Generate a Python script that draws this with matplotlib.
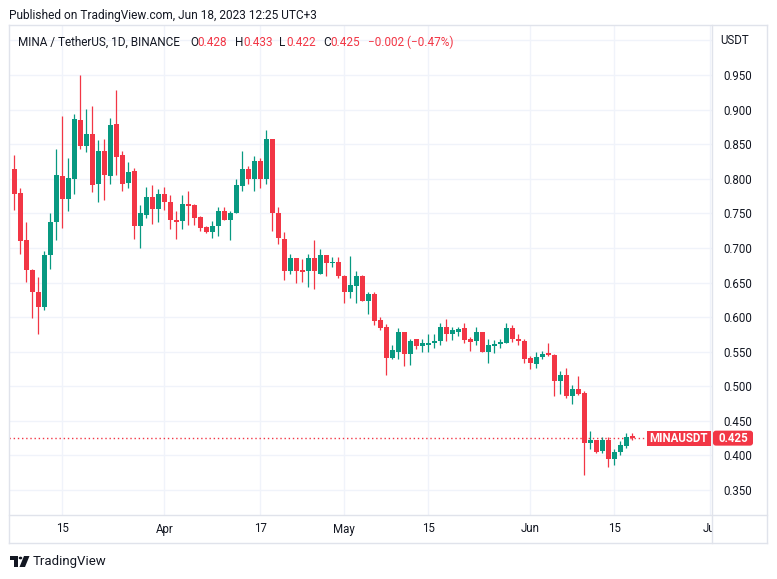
import matplotlib
matplotlib.use("Agg")
import matplotlib.pyplot as plt
import matplotlib.dates as mdates
from matplotlib.patches import Rectangle, Polygon, Circle, FancyBboxPatch
from matplotlib.lines import Line2D
from matplotlib.transforms import blended_transform_factory
import numpy as np
import pandas as pd

# ---------------- data ----------------
start_date = "2023-03-07"
opens = [0.814, 0.779, 0.711, 0.668, 0.637, 0.614, 0.690, 0.738, 0.804, 0.771,
         0.800, 0.885, 0.848, 0.865, 0.793, 0.840, 0.804, 0.879, 0.834, 0.794,
         0.811, 0.732, 0.748, 0.773, 0.756, 0.778, 0.767, 0.741, 0.739, 0.763,
         0.762, 0.744, 0.730, 0.723, 0.732, 0.754, 0.741, 0.750, 0.790, 0.814,
         0.800, 0.826, 0.799, 0.858, 0.751, 0.713, 0.666, 0.686, 0.668, 0.666,
         0.686, 0.663, 0.690, 0.678, 0.680, 0.659, 0.636, 0.645, 0.659, 0.623,
         0.633, 0.596, 0.585, 0.541, 0.550, 0.579, 0.546, 0.568, 0.558, 0.559,
         0.563, 0.566, 0.585, 0.575, 0.579, 0.584, 0.568, 0.565, 0.579, 0.550,
         0.558, 0.561, 0.562, 0.584, 0.569, 0.566, 0.541, 0.532, 0.542, 0.548,
         0.545, 0.508, 0.517, 0.486, 0.496, 0.491, 0.418, 0.422, 0.406, 0.422,
         0.395, 0.405, 0.413, 0.428]
highs = [0.834, 0.786, 0.737, 0.669, 0.658, 0.695, 0.750, 0.843, 0.891, 0.830,
         0.894, 0.950, 0.901, 0.905, 0.856, 0.857, 0.888, 0.929, 0.840, 0.824,
         0.815, 0.762, 0.788, 0.791, 0.785, 0.788, 0.777, 0.753, 0.776, 0.782,
         0.763, 0.746, 0.731, 0.739, 0.759, 0.759, 0.754, 0.800, 0.840, 0.818,
         0.833, 0.830, 0.871, 0.858, 0.759, 0.723, 0.691, 0.686, 0.684, 0.691,
         0.712, 0.698, 0.690, 0.687, 0.687, 0.661, 0.688, 0.666, 0.661, 0.637,
         0.637, 0.600, 0.590, 0.560, 0.584, 0.579, 0.569, 0.569, 0.569, 0.576,
         0.575, 0.592, 0.597, 0.585, 0.585, 0.591, 0.571, 0.585, 0.579, 0.568,
         0.567, 0.569, 0.591, 0.588, 0.576, 0.568, 0.544, 0.549, 0.551, 0.562,
         0.546, 0.522, 0.527, 0.502, 0.515, 0.493, 0.435, 0.422, 0.427, 0.426,
         0.410, 0.421, 0.433, 0.433]
lows = [0.755, 0.691, 0.651, 0.598, 0.575, 0.610, 0.669, 0.712, 0.729, 0.754,
        0.778, 0.843, 0.838, 0.781, 0.767, 0.769, 0.793, 0.806, 0.782, 0.787,
        0.713, 0.700, 0.743, 0.735, 0.737, 0.755, 0.728, 0.713, 0.728, 0.733,
        0.733, 0.724, 0.722, 0.715, 0.717, 0.741, 0.712, 0.750, 0.782, 0.793,
        0.783, 0.786, 0.792, 0.724, 0.705, 0.654, 0.663, 0.650, 0.651, 0.643,
        0.641, 0.662, 0.659, 0.672, 0.656, 0.621, 0.627, 0.621, 0.624, 0.604,
        0.588, 0.582, 0.516, 0.540, 0.540, 0.529, 0.531, 0.554, 0.549, 0.549,
        0.555, 0.559, 0.565, 0.567, 0.573, 0.563, 0.551, 0.560, 0.550, 0.533,
        0.548, 0.555, 0.562, 0.564, 0.559, 0.533, 0.525, 0.527, 0.540, 0.544,
        0.486, 0.489, 0.483, 0.474, 0.487, 0.372, 0.409, 0.404, 0.404, 0.383,
        0.386, 0.401, 0.411, 0.422]
closes = [0.778, 0.710, 0.668, 0.636, 0.614, 0.690, 0.738, 0.805, 0.771, 0.801,
          0.886, 0.848, 0.865, 0.791, 0.840, 0.806, 0.878, 0.832, 0.793, 0.810,
          0.732, 0.750, 0.773, 0.756, 0.778, 0.767, 0.741, 0.737, 0.763, 0.760,
          0.743, 0.729, 0.723, 0.732, 0.754, 0.741, 0.751, 0.791, 0.814, 0.800,
          0.826, 0.799, 0.858, 0.750, 0.714, 0.666, 0.686, 0.666, 0.665, 0.686,
          0.666, 0.690, 0.678, 0.680, 0.659, 0.636, 0.647, 0.659, 0.624, 0.634,
          0.595, 0.584, 0.541, 0.552, 0.579, 0.546, 0.566, 0.558, 0.562, 0.563,
          0.566, 0.585, 0.575, 0.581, 0.583, 0.567, 0.564, 0.579, 0.550, 0.559,
          0.561, 0.564, 0.584, 0.568, 0.566, 0.540, 0.534, 0.543, 0.547, 0.545,
          0.508, 0.517, 0.486, 0.496, 0.489, 0.418, 0.422, 0.405, 0.422, 0.395,
          0.405, 0.415, 0.427, 0.425]

time_tick_dates = ["2023-03-15", "2023-04-01", "2023-04-17", "2023-05-01",
                   "2023-05-15", "2023-06-01", "2023-06-15", "2023-07-01"]
time_tick_labels = ["15", "Apr", "17", "May", "15", "Jun", "15", "Jul"]
price_ticks = [0.35, 0.40, 0.45, 0.50, 0.55, 0.60, 0.65, 0.70, 0.75, 0.80,
               0.85, 0.90, 0.95, 1.00]
price_labels = ["0.350", "0.400", "0.450", "0.500", "0.550", "0.600", "0.650",
                "0.700", "0.750", "0.800", "0.850", "0.900", "0.950", ""]
last_price = 0.425
symbol = "MINAUSDT"
header = "Published on TradingView.com, Jun 18, 2023 12:25 UTC+3"
legend_title = "MINA / TetherUS, 1D, BINANCE"
legend_parts = [("O", "0.428"), ("H", "0.433"), ("L", "0.422"), ("C", "0.425")]
legend_change = "\u22120.002 (\u22120.47%)"

# ---------------- style ----------------
UP = "#089981"
DOWN = "#f23645"
TXT = "#131722"
GRID = "#f0f3fa"
FRAME = "#e0e3eb"
FONT = "Roboto"
plt.rcParams["font.family"] = [FONT, "DejaVu Sans"]

W, H = 777, 579
fig = plt.figure(figsize=(W / 100, H / 100), dpi=100)
fig.patch.set_facecolor("white")


def fx(x):
    return x / W


def fy(y):
    return 1 - y / H


PL, PR, PT, PB = 9, 712, 25, 515
ax = fig.add_axes([fx(PL), fy(PB), (PR - PL) / W, (PB - PT) / H])
ax.set_facecolor("white")

dates = pd.date_range(start_date, periods=len(opens), freq="D")
x = mdates.date2num(dates.to_pydatetime())
o = np.array(opens)
h = np.array(highs)
l = np.array(lows)
c = np.array(closes)
up = c >= o
cols = np.where(up, UP, DOWN)

ax.set_ylim(0.3139, 1.0223)
ax.set_xlim(x[0] - 0.88, x[0] + 116.3)

# grid
tick_x = mdates.date2num(pd.to_datetime(time_tick_dates).to_pydatetime())
ax.set_xticks(tick_x)
ax.set_yticks(price_ticks, price_labels)
ax.grid(True, color=GRID, lw=1.0, zorder=0)
ax.set_axisbelow(True)
ax.tick_params(axis="x", length=0, labelbottom=False)
ax.yaxis.tick_right()
ax.tick_params(axis="y", length=0, pad=8, labelsize=8.3, labelcolor=TXT)
for s in ax.spines.values():
    s.set_visible(False)

# candles
ax.vlines(x, l, h, colors=cols, lw=0.9, zorder=3)
body_low = np.minimum(o, c)
body_h = np.maximum(np.abs(c - o), 0.0016)
ax.bar(x, body_h, width=0.82, bottom=body_low, color=cols, linewidth=0, zorder=4)

# last price dotted line
ax.axhline(last_price, color=DOWN, lw=1.0, ls=(0, (1, 2)), zorder=2)

# time axis
tax = fig.add_axes([fx(PL), fy(543), (PR - PL) / W, (543 - PB) / H])
tax.set_xlim(ax.get_xlim())
tax.set_ylim(0, 1)
tax.axis("off")
for tx, tl in zip(tick_x, time_tick_labels):
    tax.text(tx, 0.5, tl, ha="center", va="center", fontsize=8.3, color=TXT,
             clip_on=True)

# frame lines
def fline(x0, y0, x1, y1, color=FRAME, lw=1.0):
    fig.add_artist(Line2D([fx(x0), fx(x1)], [fy(y0), fy(y1)], color=color,
                          lw=lw, transform=fig.transFigure))

fline(PL, PT, 767, PT)
fline(PL, 543, 767, 543)
fline(PL, PT, PL, 543)
fline(767, PT, 767, 543)
fline(PR, PT, PR, 543)
fline(PL, PB, 767, PB)

# USDT label
fig.text(fx(735), fy(41), "USDT", ha="center", va="center", fontsize=8.3, color=TXT)

# price label boxes
bt = blended_transform_factory(fig.transFigure, ax.transData)
box_h = 15 / 691.7
fig.add_artist(Rectangle((fx(647), last_price - box_h / 2), (PR - 1 - 647) / W, box_h,
                         transform=bt, color=DOWN, lw=0, zorder=5))
fig.text(fx(678), last_price, symbol, transform=bt, ha="center", va="center",
         fontsize=8.3, color="white", fontweight="bold", zorder=6)
fig.add_artist(FancyBboxPatch((fx(PR + 1), last_price - box_h / 2), (753 - PR - 1) / W, box_h,
                              boxstyle="round,pad=0,rounding_size=0.004",
                              transform=bt, color=DOWN, lw=0, zorder=5))
fig.text(fx(733), last_price, f"{last_price:.3f}", transform=bt, ha="center",
         va="center", fontsize=8.3, color="white", fontweight="bold", zorder=6)

# header
fig.text(fx(9), fy(15), header, ha="left", va="center", fontsize=8.6, color=TXT)

# legend
ly = fy(42)
fig.text(fx(18), ly, legend_title, ha="left", va="center", fontsize=8.5, color=TXT)
lx = [(190, 197), (235, 243), (279, 286), (323, 330)]
for (k, v), (xk, xv) in zip(legend_parts, lx):
    fig.text(fx(xk), ly, k, ha="left", va="center", fontsize=8.5, color=TXT)
    fig.text(fx(xv), ly, v, ha="left", va="center", fontsize=8.5, color=DOWN)
fig.text(fx(368), ly, legend_change, ha="left", va="center", fontsize=8.5, color=DOWN)

# TradingView logo
def pxpoly(pts, color="#131722"):
    fig.add_artist(Polygon([(fx(px), fy(py)) for px, py in pts], closed=True,
                           transform=fig.transFigure, color=color, lw=0))

pxpoly([(10, 556), (18, 556), (18, 567), (14, 567), (14, 560), (10, 560)])
fig.add_artist(Circle((fx(20.5), fy(558)), 1.8 / W, transform=fig.transFigure,
                      color="#131722", lw=0))
pxpoly([(24, 556), (29.5, 556), (25, 567), (19.5, 567)])
fig.text(fx(33), fy(562), "TradingView", ha="left", va="center", fontsize=9.5,
         color=TXT)

fig.savefig("out.png", dpi=100, facecolor="white")
